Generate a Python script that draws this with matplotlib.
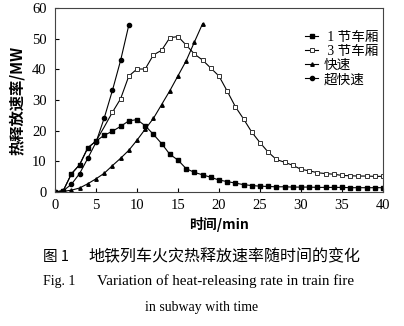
import matplotlib
matplotlib.use("Agg")
import matplotlib.pyplot as plt

plt.rcParams['font.family'] = ['Liberation Serif', 'Noto Sans CJK SC']

t = list(range(0, 41))
one_car = [0, 0.4, 5.9, 8.9, 14.4, 16.6, 18.5, 19.8, 21.4, 23.2, 23.6, 21.6, 18.8, 15.8, 12.3, 10.4,
           7.6, 6.4, 5.6, 4.8, 3.9, 3.4, 2.9, 2.4, 2.1, 1.9, 1.8, 1.7, 1.7, 1.6, 1.6,
           1.6, 1.5, 1.5, 1.5, 1.5, 1.4, 1.4, 1.4, 1.4, 1.4]
three_car = [0, 0.4, 5.9, 8.9, 14.4, 16.6, 21.2, 26.0, 30.4, 37.8, 40.1, 40.1, 44.7, 46.2, 50.3, 50.7,
             47.9, 45.0, 43.0, 40.4, 37.8, 32.9, 27.8, 23.8, 19.5, 16.1, 13.0, 10.6, 9.7, 8.7, 7.4,
             6.9, 6.3, 6.0, 5.8, 5.4, 5.3, 5.2, 5.2, 5.1, 5.1]
fast_t = list(range(0, 19))
fast = [0, 0.2, 0.6, 1.3, 2.7, 4.3, 6.1, 8.6, 11.0, 13.6, 16.9, 20.5, 24.0, 28.5, 33.0, 37.9, 42.8, 48.9, 54.9]
ultra_t = list(range(0, 10))
ultra = [0, 0.4, 2.5, 6.0, 11.0, 16.2, 24.1, 33.1, 42.9, 54.4]

labels = [' 1 节车厢', ' 3 节车厢', '快速', '超快速']
xticks = [0, 5, 10, 15, 20, 25, 30, 35, 40]
yticks = [0, 10, 20, 30, 40, 50, 60]

fig = plt.figure(figsize=(4.04, 3.26), dpi=100)
ax = fig.add_axes([55/404, 1-192/326, 328/404, 184/326])

lw = 0.8
ax.plot(t, one_car, color='black', lw=lw, marker='s', ms=3.4, mfc='black', mec='black', label=labels[0])
ax.plot(t, three_car, color='black', lw=lw, marker='s', ms=3.5, mfc='white', mec='#333333', mew=0.7,
        markevery=list(range(7, 41)), label=labels[1])
ax.plot(fast_t, fast, color='black', lw=lw, marker='^', ms=2.5, mfc='black', mec='black', label=labels[2])
ax.plot(ultra_t, ultra, color='black', lw=lw, marker='o', ms=3.0, mfc='black', mec='black', label=labels[3])

ax.set_xlim(0, 40)
ax.set_ylim(0, 60)
ax.set_xticks(xticks)
ax.set_yticks(yticks)
ax.tick_params(direction='in', length=3, width=0.8, labelsize=10.5)
ax.tick_params(axis='x', pad=5)
ax.tick_params(axis='y', pad=6)
for s in ax.spines.values():
    s.set_linewidth(0.8)
    s.set_color('#444444')

ax.set_xlabel('时间/min', fontsize=10, fontweight='bold', family=['Noto Sans CJK SC'], labelpad=4)
ax.set_ylabel('热释放速率/MW', fontsize=11, fontweight='bold', family=['Noto Sans CJK SC'], labelpad=5)

leg = ax.legend(loc='upper left', bbox_to_anchor=(0.745, 0.905), frameon=False,
                handlelength=1.0, handletextpad=0.4, labelspacing=0.08, borderaxespad=0,
                prop={'family': ['Liberation Serif', 'Noto Sans CJK SC'], 'size': 9.8})

fig.text(43/404, 1-257/326, '图 1', fontsize=10.5, family=['Noto Sans CJK SC'], va='center', ha='left')
fig.text(88/404, 1-257/326, '地铁列车火灾热释放速率随时间的变化', fontsize=11.5, family=['Noto Sans CJK SC'],
         va='center', ha='left')
fig.text(43/404, 1-281/326, 'Fig. 1', fontsize=10, family=['Liberation Serif'], va='center', ha='left')
fig.text(97/404, 1-281/326, 'Variation of heat-releasing rate in train fire', fontsize=10.8,
         family=['Liberation Serif'], va='center', ha='left')
fig.text(202/404, 1-308/326, 'in subway with time', fontsize=10, family=['Liberation Serif'],
         va='center', ha='center')

fig.savefig('out.png', dpi=100)
